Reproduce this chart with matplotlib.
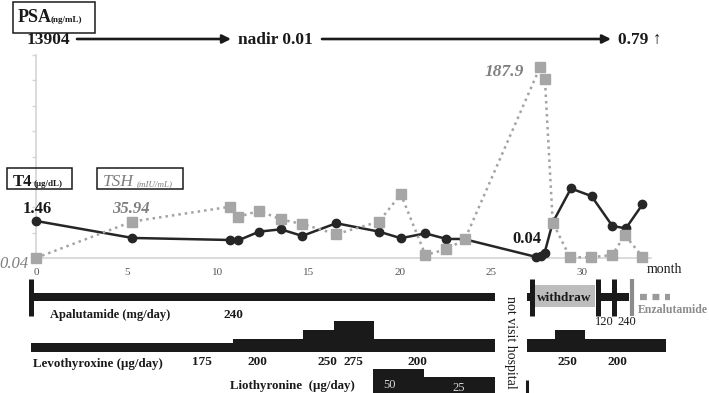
import matplotlib
matplotlib.use("Agg")
import matplotlib.pyplot as plt
from matplotlib.patches import Rectangle

W, H = 709, 393
plt.rcParams['font.family'] = ['Liberation Serif', 'DejaVu Serif']

# ---------------- data ----------------
t4_month = [0, 5.3, 10.66, 11.1, 12.27, 13.46, 14.63, 16.5, 18.85, 20.05, 21.4,
            22.56, 23.5, 27.5, 27.75, 27.95, 28.4, 29.4, 30.53, 31.68, 32.42, 33.33]
t4_value = [1.46, 0.79, 0.71, 0.69, 1.04, 1.13, 0.87, 1.37, 1.04, 0.78, 0.97,
            0.75, 0.75, 0.04, 0.08, 0.2, 1.4, 2.74, 2.44, 1.26, 1.17, 2.11]
tsh_month = [0, 5.3, 10.66, 11.1, 12.27, 13.46, 14.63, 16.5, 18.85, 20.05, 21.4,
             22.56, 23.57, 27.7, 27.97, 28.4, 29.35, 30.5, 31.68, 32.36, 33.33]
tsh_value = [0.04, 35.94, 50.5, 40.5, 46.5, 38.0, 33.5, 23.5, 35.8, 63.0, 3.0,
             8.6, 18.4, 187.9, 176.0, 34.8, 0.7, 0.7, 3.0, 22.6, 1.3]
xticks = [0, 5, 10, 15, 20, 25, 30]
t4_yticks = [0, 1, 2, 3, 4, 5, 6, 7, 8]

psa_labels = ["13904", "nadir 0.01", "0.79 \u2191"]

# Apalutamide / Enzalutamide timeline (months)
apa_start = [-0.3, 27.0, 30.9, 31.75]
apa_end = [25.2, 27.4, 31.75, 32.6]
apa_ticks = [-0.3, 27.26, 30.9, 31.75]
apa_dose_labels = ["240", "120", "240"]
withdraw_start, withdraw_end = 27.37, 30.72
enza_start, enza_end = 32.75, 34.85

# Levothyroxine (months, ug/day)
levo_start = [-0.3, 10.8, 14.7, 16.4, 18.6, 27.0, 28.5, 30.2]
levo_end = [10.8, 14.7, 16.4, 18.6, 25.2, 28.5, 30.2, 34.6]
levo_dose = [175, 200, 250, 275, 200, 200, 250, 200]

# Liothyronine (months, ug/day)
lio_start = [18.5, 21.3]
lio_end = [21.3, 25.2]
lio_dose = [50, 25]
lio_restart = 27.0

# ---------------- styles ----------------
levo_height = {175: 9, 200: 13, 250: 22, 275: 31}   # bar thickness in px
lio_height = {50: 26, 25: 18}
BLACK = '#1a1a1a'
GRAY = '#a3a3a3'
TXTGRAY = '#7f7f7f'

fig = plt.figure(figsize=(W / 100, H / 100), dpi=100)

L, R, T, B = 36, 651, 55, 258
XMAX = 33.8
ax = fig.add_axes([L / W, 1 - B / H, (R - L) / W, (B - T) / H])
ax.set_xlim(0, XMAX)
ax.set_ylim(0, 8)
for s in ['top', 'right']:
    ax.spines[s].set_visible(False)
for s in ['left', 'bottom']:
    ax.spines[s].set_color('#d4d4d4')
    ax.spines[s].set_linewidth(1.2)
ax.set_xticks(xticks)
ax.set_xticklabels([str(v) for v in xticks], fontsize=8, color='#555555')
ax.tick_params(axis='x', length=0, pad=7)
ax.set_yticks(t4_yticks)
ax.set_yticklabels([])
ax.tick_params(axis='y', length=3, color='#d4d4d4', width=1)
ax.plot(t4_month, t4_value, color='#262626', lw=1.8, marker='o', ms=6,
        clip_on=False, zorder=3)

ax2 = ax.twinx()
ax2.set_ylim(0, 200)
ax2.axis('off')
ax2.plot(tsh_month, tsh_value, color=GRAY, lw=1.8, ls=(0, (1, 1.6)),
         marker='s', ms=6.5, mfc='#a6a6a6', mec='#a6a6a6', clip_on=False, zorder=4)

# bottom timeline axes: same month scale, y in pixel rows
ppm = (R - L) / XMAX
axb = fig.add_axes([0, 0, 1, 1])
axb.set_xlim(-L / ppm, (W - L) / ppm)
axb.set_ylim(H, 0)
axb.axis('off')
axb.patch.set_alpha(0)

BAR_Y = 297
# apalutamide bars
for s, e in zip(apa_start, apa_end):
    axb.bar(s, 8, width=e - s, bottom=BAR_Y - 4, align='edge', color=BLACK, lw=0)
axb.bar(withdraw_start, 22, width=withdraw_end - withdraw_start, bottom=285,
        align='edge', color='#bdbdbd', lw=0)
axb.vlines(apa_ticks, 279, 316, color=BLACK, lw=3.6)
axb.vlines([enza_start], 279, 316, color='#8c8c8c', lw=3.0)
axb.plot([enza_start + 0.45, enza_end], [BAR_Y, BAR_Y], color='#9a9a9a', lw=4.5,
         ls=(0, (1.1, 0.9)), solid_capstyle='butt')

# levothyroxine
for s, e, d in zip(levo_start, levo_end, levo_dose):
    axb.bar(s, -levo_height[d], width=e - s, bottom=352, align='edge', color=BLACK, lw=0)
# liothyronine
for s, e, d in zip(lio_start, lio_end, lio_dose):
    axb.bar(s, -lio_height[d], width=e - s, bottom=395, align='edge', color=BLACK, lw=0)
axb.vlines([lio_restart], 380, 395, color=BLACK, lw=2.2)


def P(x, y):
    return x / W, 1 - y / H


def txt(x, y, s, **kw):
    kw.setdefault('va', 'baseline')
    kw.setdefault('ha', 'left')
    fig.text(*P(x, y), s, **kw)


def box(x0, y0, x1, y1):
    fig.patches.append(Rectangle(P(x0, y1), (x1 - x0) / W, (y1 - y0) / H,
                                 transform=fig.transFigure, fill=False,
                                 ec=BLACK, lw=1.1))


# PSA header
box(13, 2, 95, 33)
txt(18, 22, "PSA", fontsize=13, fontweight='bold', color=BLACK)
txt(51, 22, "(ng/mL)", fontsize=6.5, fontweight='bold', color=BLACK)
txt(27, 44, psa_labels[0], fontsize=12.5, fontweight='bold', color=BLACK)
txt(238, 44, psa_labels[1], fontsize=12.5, fontweight='bold', color=BLACK)
txt(618, 44, psa_labels[2], fontsize=12.5, fontweight='bold', color=BLACK)
for x0, x1 in [(77, 231), (322, 611)]:
    fig.patches.append(matplotlib.patches.FancyArrowPatch(
        P(x0, 39), P(x1, 39), transform=fig.transFigure,
        arrowstyle='-|>,head_length=5,head_width=2.5', lw=1.9, color=BLACK,
        shrinkA=0, shrinkB=0))

# T4 / TSH boxes
box(7, 168, 72, 189)
txt(13, 186, "T4", fontsize=12, fontweight='bold', color=BLACK)
txt(34, 186, "(\u03bcg/dL)", fontsize=6.5, fontweight='bold', color=BLACK)
box(97, 168, 183, 189)
txt(103, 186, "TSH", fontsize=12.5, style='italic', color=TXTGRAY)
txt(137, 186, "(mIU/mL)", fontsize=6.5, style='italic', color=TXTGRAY)

# value annotations
txt(23, 213, "1.46", fontsize=12, fontweight='bold', color=BLACK)
txt(112, 213, "35.94", fontsize=12, fontweight='bold', style='italic', color=TXTGRAY)
txt(-1, 268, "0.04", fontsize=12, style='italic', color=TXTGRAY)
txt(485, 76, "187.9", fontsize=12.5, fontweight='bold', style='italic', color=TXTGRAY)
txt(512, 243, "0.04", fontsize=12, fontweight='bold', color=BLACK)
txt(647, 273, "month", fontsize=10, color=BLACK)

# timeline labels
txt(50, 318, "Apalutamide (mg/day)", fontsize=9, fontweight='bold', color=BLACK)
txt(223, 318, apa_dose_labels[0], fontsize=9.5, fontweight='bold', color=BLACK)
txt(537, 301, "withdraw", fontsize=9.5, fontweight='bold', color=BLACK)
txt(595, 325, apa_dose_labels[1], fontsize=9, color=BLACK)
txt(617, 325, apa_dose_labels[2], fontsize=9, color=BLACK)
txt(638, 313, "Enzalutamide", fontsize=8.5, fontweight='bold', color='#8c8c8c')

txt(33, 367, "Levothyroxine (\u03bcg/day)", fontsize=9.3, fontweight='bold', color=BLACK)
for x, s in [(192, "175"), (247, "200"), (318, "250"), (343, "275"), (407, "200"),
             (558, "250"), (608, "200")]:
    txt(x, 365, s, fontsize=9.5, fontweight='bold', color=BLACK)
txt(230, 389, "Liothyronine  (\u03bcg/day)", fontsize=9.3, fontweight='bold', color=BLACK)
txt(383, 388, str(lio_dose[0]), fontsize=9, color='#d9d9d9')
txt(452, 391, str(lio_dose[1]), fontsize=9, color='#d9d9d9')

fig.text(*P(510, 342), "not visit hospital", rotation=270, fontsize=10,
         ha='center', va='center', color=BLACK)

fig.savefig("out.png", dpi=100)
